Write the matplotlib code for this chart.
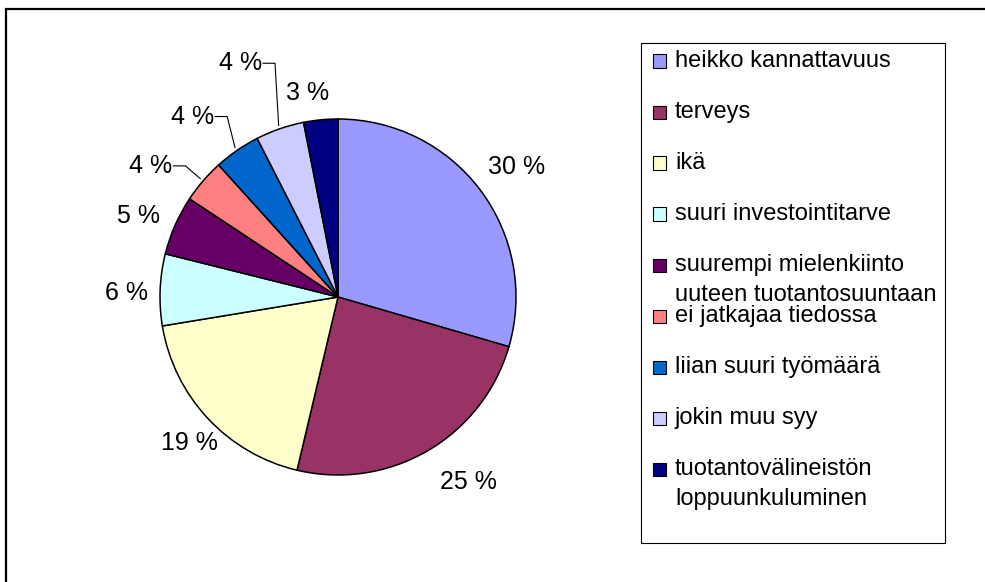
import numpy as np
import matplotlib
matplotlib.use('Agg')
import matplotlib.pyplot as plt
from matplotlib.patches import Rectangle

plt.rcParams['font.family'] = ['Liberation Sans', 'DejaVu Sans']

categories = ['heikko kannattavuus', 'terveys', 'ikä', 'suuri investointitarve',
              'suurempi mielenkiinto\nuuteen tuotantosuuntaan', 'ei jatkajaa tiedossa',
              'liian suuri työmäärä', 'jokin muu syy',
              'tuotantovälineistön\nloppuunkuluminen']
# slice shares as measured from the drawing, and the printed labels
shares = [29.5, 24.2, 18.7, 6.5, 5.4, 4.0, 4.2, 4.4, 3.1]
pct_labels = ['30 %', '25 %', '19 %', '6 %', '5 %', '4 %', '4 %', '4 %', '3 %']
colors = ['#9999FF', '#993366', '#FFFFCC', '#CCFFFF', '#660066',
          '#FF8080', '#0066CC', '#CCCCFF', '#000080']

# label placement (radius units) and angle nudge (deg), leader flags
label_dist = [1.24, 1.27, 1.17, 1.19, 1.21, 1.13, 1.19, 1.36, 1.16]
label_shift = [-0.9, 4.9, 1.6, 1.3, 1.8, 0, -3, -4, 3]
leader = [False, False, False, False, False, True, True, True, False]

W, H = 985, 582
fig = plt.figure(figsize=(W / 100, H / 100), dpi=100)

R = 178.0
cx, cy = 338, 297
xl, yl = 1.9, 1.6
ax = fig.add_axes([(cx - xl * R) / W, (H - cy - yl * R) / H, 2 * xl * R / W, 2 * yl * R / H])

wedges, _ = ax.pie(shares, colors=colors, startangle=90, counterclock=False,
                   radius=1.0, wedgeprops=dict(edgecolor='black', linewidth=1.1))
ax.set_xlim(-xl, xl)
ax.set_ylim(-yl, yl)
ax.axis('off')

total = sum(shares)
cum = np.cumsum([0] + shares[:-1])
for i, v in enumerate(shares):
    mid = 90 - 360.0 * (cum[i] + v / 2) / total
    txt = pct_labels[i]
    if leader[i]:
        a = np.radians(mid)
        sx, sy = 1.02 * np.cos(a), 1.02 * np.sin(a)
        b = np.radians(mid + label_shift[i])
        ex, ey = label_dist[i] * np.cos(b), label_dist[i] * np.sin(b)
        hs = 12 / R
        ax.plot([sx, ex, ex - hs], [sy, ey, ey], color='black', lw=0.8)
        ax.text(ex - hs - 1 / R, ey, txt, ha='right', va='center', fontsize=18)
    else:
        a = np.radians(mid + label_shift[i])
        ax.text(label_dist[i] * np.cos(a), label_dist[i] * np.sin(a), txt,
                ha='center', va='center', fontsize=18)

# outer frame
fig.patches.append(Rectangle((5.5 / W, -0.1), 1.2, (H - 8.5) / H + 0.1,
                             transform=fig.transFigure, fill=False,
                             edgecolor='black', linewidth=1.6))

# legend
fig.patches.append(Rectangle((641 / W, (H - 543) / H), 304 / W, 500 / H,
                             transform=fig.transFigure, fill=False,
                             edgecolor='black', linewidth=0.8))
for i, lab in enumerate(categories):
    y = 61 + 51 * i
    fig.patches.append(Rectangle((653 / W, (H - y - 6.5) / H), 13 / W, 13 / H,
                                 transform=fig.transFigure, facecolor=colors[i],
                                 edgecolor='black', linewidth=0.8))
    lines = lab.split('\n')
    for j, ln in enumerate(lines):
        fig.text(675 / W, (H - y - 30 * j) / H, ln, ha='left', va='center',
                 fontsize=17)

plt.savefig('out.png', dpi=100)
